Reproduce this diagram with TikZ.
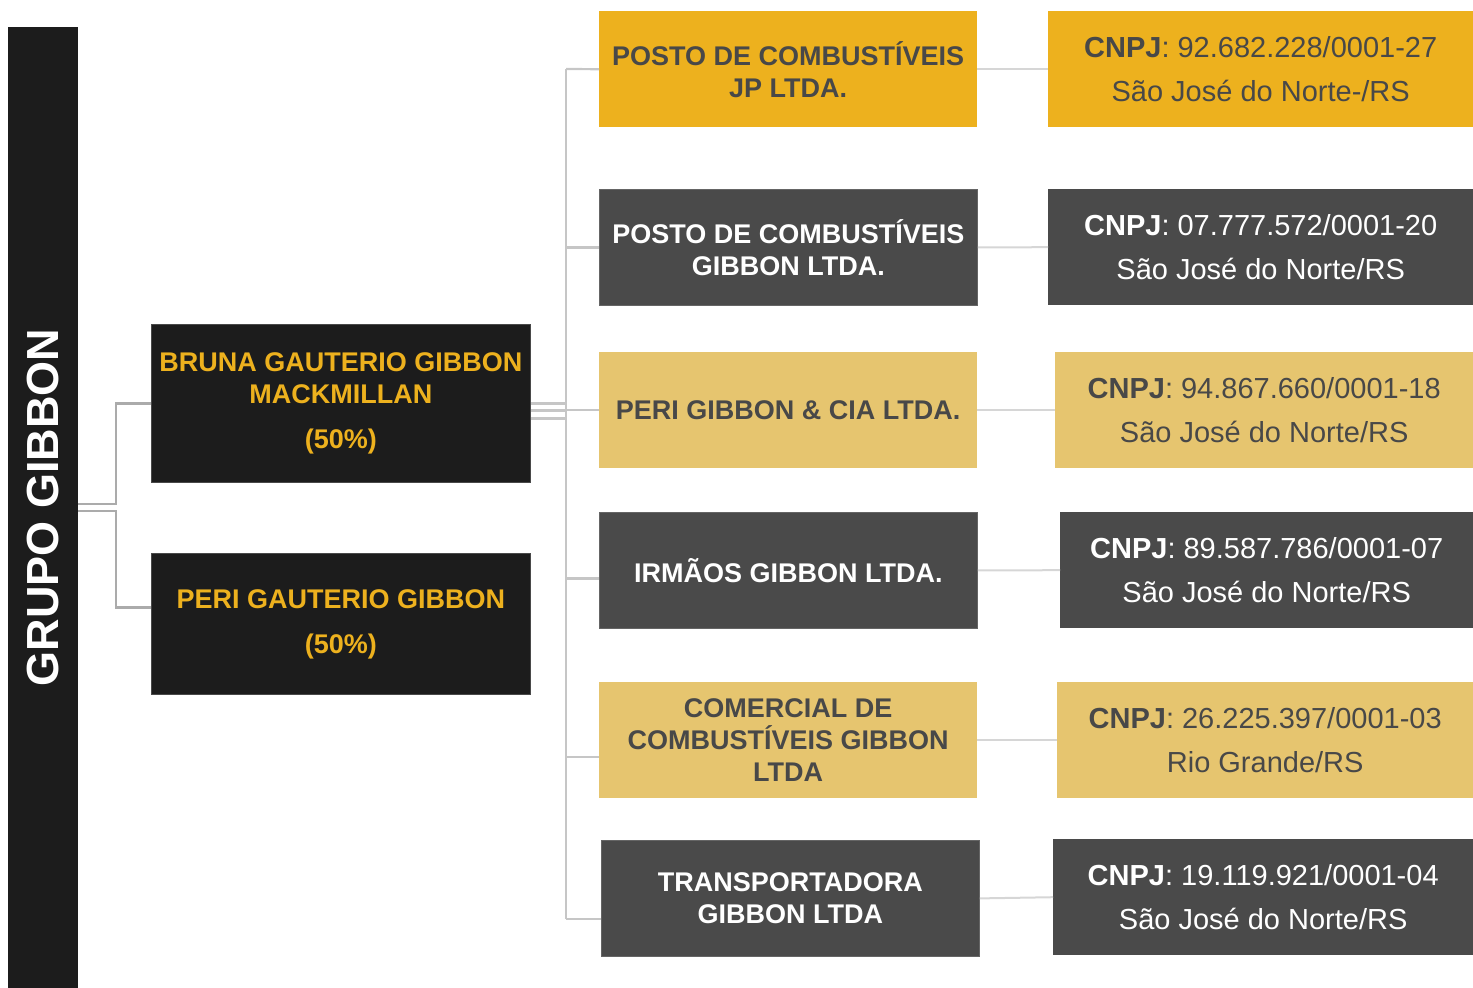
\documentclass[tikz,border=0pt]{standalone}
\usepackage{fontspec}
\setmainfont{Liberation Sans}
\definecolor{gibbonblack}{HTML}{1C1C1C}
\definecolor{gibbongold}{HTML}{EDB11E}
\definecolor{gibbonsand}{HTML}{E6C56F}
\definecolor{gibbongray}{HTML}{4A4A4A}
\definecolor{inkgray}{HTML}{484848}
\definecolor{linegray}{HTML}{ABABAB}
\definecolor{buslinegray}{HTML}{C6C6C6}
\definecolor{faintline}{HTML}{D6D6D6}
\begin{document}
\begin{tikzpicture}[x=1pt, y=-1pt,
  blacknode/.style={fill=gibbonblack, draw=gibbonblack!80!white, line width=0.8pt, text=gibbongold,
    font=\fontsize{27}{32}\selectfont\bfseries, align=center, inner sep=0pt, anchor=north west},
  goldnode/.style={fill=gibbongold, text=inkgray, font=\fontsize{27}{32}\selectfont\bfseries,
    align=center, inner sep=0pt, anchor=north west, minimum width=378pt, minimum height=116pt},
  sandnode/.style={goldnode, fill=gibbonsand},
  graynode/.style={goldnode, fill=gibbongray, draw=gibbongray!85!white, line width=0.8pt, text=white},
  goldinfo/.style={goldnode, font=\fontsize{29}{44}\selectfont, minimum height=116pt},
  sandinfo/.style={goldinfo, fill=gibbonsand},
  grayinfo/.style={goldinfo, fill=gibbongray, text=white},
  leftline/.style={draw=linegray, line width=2.2pt},
  busline/.style={draw=buslinegray, line width=2.2pt},
  rightline/.style={draw=faintline, line width=2pt}
]
\useasboundingbox (0,0) rectangle (1473,988);

% group bar
\node[fill=gibbonblack, minimum width=70pt, minimum height=961pt, inner sep=0pt,
  label={[rotate=90, text=white, font=\fontsize{45}{50}\selectfont\bfseries]center:GRUPO GIBBON}]
  (grupo) at (43,507.5) {};

% partners
\node[blacknode, minimum width=379pt, minimum height=158pt] (bruna) at (151,324)
  {BRUNA GAUTERIO GIBBON\\MACKMILLAN\\[13pt](50\%)};
\node[blacknode, minimum width=379pt, minimum height=141pt] (peri) at (151,553)
  {PERI GAUTERIO GIBBON\\[13pt](50\%)};

% companies
\node[goldnode] (e1) at (599,11) {POSTO DE COMBUSTÍVEIS\\JP LTDA.};
\node[graynode] (e2) at (599,189) {POSTO DE COMBUSTÍVEIS\\GIBBON LTDA.};
\node[sandnode] (e3) at (599,352) {PERI GIBBON \& CIA LTDA.};
\node[graynode] (e4) at (599,512) {IRMÃOS GIBBON LTDA.};
\node[sandnode] (e5) at (599,682) {COMERCIAL DE\\COMBUSTÍVEIS GIBBON\\LTDA};
\node[graynode] (e6) at (601,840) {TRANSPORTADORA\\GIBBON LTDA};

% registrations
\node[goldinfo, minimum width=425pt] (n1) at (1048,11)
  {\textbf{CNPJ}: 92.682.228/0001-27\\São José do Norte-/RS};
\node[grayinfo, minimum width=425pt] (n2) at (1048,189)
  {\textbf{CNPJ}: 07.777.572/0001-20\\São José do Norte/RS};
\node[sandinfo, minimum width=418pt] (n3) at (1055,352)
  {\textbf{CNPJ}: 94.867.660/0001-18\\São José do Norte/RS};
\node[grayinfo, minimum width=413pt] (n4) at (1060,512)
  {\textbf{CNPJ}: 89.587.786/0001-07\\São José do Norte/RS};
\node[sandinfo, minimum width=416pt] (n5) at (1057,682)
  {\textbf{CNPJ}: 26.225.397/0001-03\\Rio Grande/RS};
\node[grayinfo, minimum width=420pt] (n6) at (1053,839)
  {\textbf{CNPJ}: 19.119.921/0001-04\\São José do Norte/RS};

% group to partners
\draw[leftline] ([yshift=3.5pt]grupo.east) -- ++(38,0) |- (bruna.west);
\draw[leftline] ([yshift=-3.5pt]grupo.east) -- ++(38,0) |- ([yshift=16.5pt]peri.west);

% partners to companies
\coordinate (bt) at (566,69);
\coordinate (bb) at (566,919);
\draw[busline] (bt) -- (bb);
\draw[busline] (bruna.east) -- (bruna.east -| bt);
\draw[busline] ([yshift=-7pt]bruna.east) -- ([yshift=-7pt]bruna.east -| bt);
\draw[busline] ([yshift=-15pt]bruna.east) -- ([yshift=-15pt]bruna.east -| bt);
\draw[busline] (bt) -- (e1.west);
\draw[busline] (e2.west -| bt) -- (e2.west);
\draw[busline] (e3.west -| bt) -- (e3.west);
\draw[busline] ([yshift=-8pt]e4.west -| bt) -- ([yshift=-8pt]e4.west);
\draw[busline] ([yshift=-16.5pt]e5.west -| bt) -- ([yshift=-16.5pt]e5.west);
\draw[busline] (bb) -- (bb -| e6.west);

% companies to registrations
\foreach \i in {1,...,6}
  \draw[rightline] (e\i.east) -- (n\i.west);

\end{tikzpicture}
\end{document}
